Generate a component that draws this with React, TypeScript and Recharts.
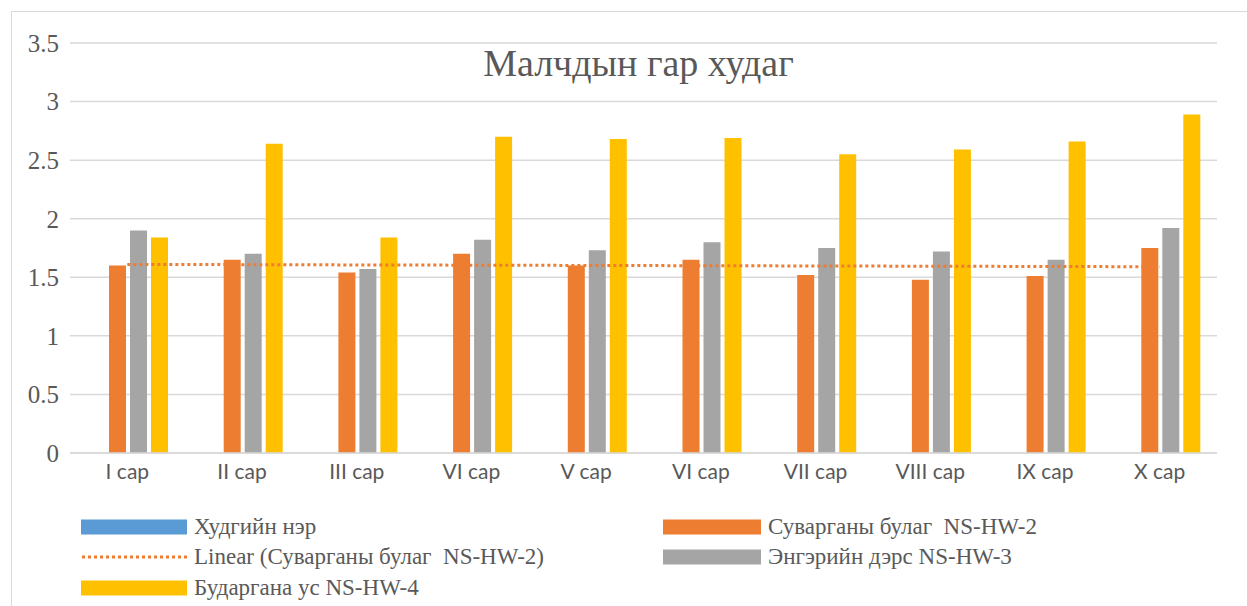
import React from 'react';
import { BarChart, Bar, XAxis, YAxis, CartesianGrid, ReferenceLine } from 'recharts';

const categories = ['I сар', 'II сар', 'III сар', 'VI сар', 'V сар', 'VI сар', 'VII сар', 'VIII сар', 'IX сар', 'X сар'];
const khudgiinNer: (number | null)[] = [null, null, null, null, null, null, null, null, null, null];
const suvarganyBulag = [1.6, 1.65, 1.54, 1.7, 1.6, 1.65, 1.52, 1.48, 1.51, 1.75];
const engeriinDers = [1.9, 1.7, 1.57, 1.82, 1.73, 1.8, 1.75, 1.72, 1.65, 1.92];
const budarganaUs = [1.84, 2.64, 1.84, 2.7, 2.68, 2.69, 2.55, 2.59, 2.66, 2.89];
const trendStart = 1.61;
const trendEnd = 1.59;
const yTicks = [0, 0.5, 1, 1.5, 2, 2.5, 3, 3.5];

const title = 'Малчдын гар худаг';
const seriesNames = {
  w: 'Худгийн нэр',
  s: 'Суварганы булаг  NS-HW-2',
  t: 'Linear (Суварганы булаг  NS-HW-2)',
  e: 'Энгэрийн дэрс NS-HW-3',
  b: 'Бударгана ус NS-HW-4',
};
const colors = { w: '#5B9BD5', s: '#ED7D31', e: '#A5A5A5', b: '#FFC000' };

const data = categories.map((c, i) => ({
  i,
  w: khudgiinNer[i],
  s: suvarganyBulag[i],
  e: engeriinDers[i],
  b: budarganaUs[i],
}));

const textColor = '#595959';
const gridColor = '#D9D9D9';
const serif = '"Liberation Serif", "Times New Roman", Times, serif';

type LegendItem = { name: string; color: string; kind: 'bar' | 'dot'; col: number; row: number };
const legendItems: LegendItem[] = [
  { name: seriesNames.w, color: colors.w, kind: 'bar', col: 0, row: 0 },
  { name: seriesNames.s, color: colors.s, kind: 'bar', col: 1, row: 0 },
  { name: seriesNames.t, color: colors.s, kind: 'dot', col: 0, row: 1 },
  { name: seriesNames.e, color: colors.e, kind: 'bar', col: 1, row: 1 },
  { name: seriesNames.b, color: colors.b, kind: 'bar', col: 0, row: 2 },
];

const colX = [81, 663];
const colSwatchW = [106, 98];
const rowY = [527, 557, 588];

export default function App() {
  return (
    <div style={{ position: 'fixed', left: 0, top: 0, width: 1247, height: 606, overflow: 'hidden', background: '#fff' }}>
      <div
        style={{
          position: 'absolute',
          left: 11,
          top: 11,
          width: 1260,
          height: 620,
          border: '1.5px solid ' + gridColor,
          boxSizing: 'border-box',
        }}
      />
      <div style={{ position: 'absolute', left: 0, top: 0 }}>
        <BarChart
          width={1247}
          height={606}
          data={data}
          margin={{ top: 43, right: 30, left: 0, bottom: 123 }}
          barCategoryGap={18}
          barGap={4}
        >
          <CartesianGrid vertical={false} stroke={gridColor} strokeWidth={1.5} />
          <XAxis
            dataKey="i"
            type="category"
            height={30}
            tickFormatter={(v: number) => categories[v]}
            tickLine={false}
            axisLine={{ stroke: gridColor, strokeWidth: 1.5 }}
            tick={{ fill: textColor, fontSize: 21, fontFamily: 'Lato, sans-serif' }}
            tickMargin={5}
            interval={0}
          />
          <YAxis
            width={70}
            domain={[0, 3.5]}
            ticks={yTicks}
            tickLine={false}
            axisLine={false}
            tick={{ fill: textColor, fontSize: 25, fontFamily: serif }}
            tickMargin={5}
          />
          <Bar dataKey="w" name={seriesNames.w} fill={colors.w} isAnimationActive={false} />
          <Bar dataKey="s" name={seriesNames.s} fill={colors.s} isAnimationActive={false} />
          <Bar dataKey="e" name={seriesNames.e} fill={colors.e} isAnimationActive={false} />
          <Bar dataKey="b" name={seriesNames.b} fill={colors.b} isAnimationActive={false} />
          <ReferenceLine
            segment={[
              { x: 0, y: trendStart },
              { x: categories.length - 1, y: trendEnd },
            ]}
            stroke={colors.s}
            strokeWidth={3}
            strokeDasharray="3 3"
          />
        </BarChart>
      </div>
      <div
        style={{
          position: 'absolute',
          left: 0,
          top: 38,
          width: 1247,
          textAlign: 'center',
          fontFamily: serif,
          fontSize: 38,
          color: textColor,
          lineHeight: '50px',
          transform: 'translateX(15px)',
        }}
      >
        {title}
      </div>
      {legendItems.map((it) => {
        const x = colX[it.col];
        const y = rowY[it.row];
        const sw = colSwatchW[it.col];
        return (
          <div key={it.name} style={{ position: 'absolute', left: x, top: y - 15, height: 30, display: 'flex', alignItems: 'center' }}>
            <svg width={sw} height={30} style={{ display: 'block' }}>
              {it.kind === 'bar' ? (
                <rect x={0} y={7.5} width={sw} height={15} fill={it.color} />
              ) : (
                <line x1={1} y1={15} x2={sw} y2={15} stroke={it.color} strokeWidth={3} strokeDasharray="3 3" />
              )}
            </svg>
            <span
              style={{
                marginLeft: 7,
                fontFamily: serif,
                fontSize: 23,
                color: textColor,
                whiteSpace: 'pre',
                lineHeight: '30px',
              }}
            >
              {it.name}
            </span>
          </div>
        );
      })}
    </div>
  );
}
